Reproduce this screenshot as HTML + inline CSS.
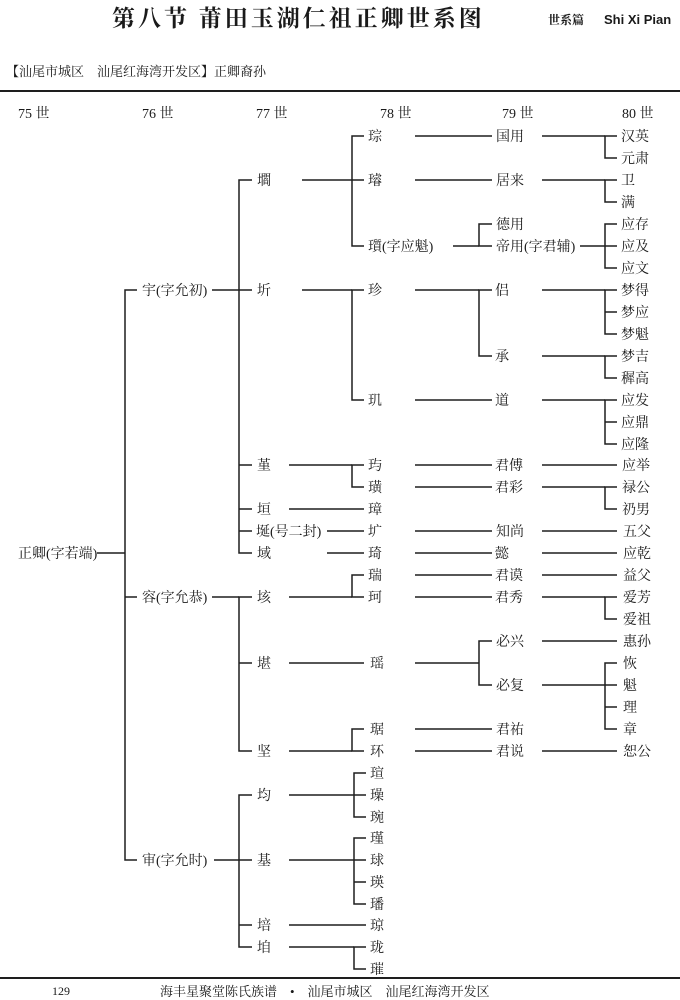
<!DOCTYPE html>
<html><head><meta charset="utf-8"><style>
html,body{margin:0;padding:0;background:#fff;}
svg{display:block}
text{font-family:"Liberation Serif","Noto Serif CJK SC",serif;font-size:14px;fill:#1a1a1a}
.t{font-family:"Liberation Serif","Noto Serif CJK SC",serif;font-size:14px}
line,path{stroke:#1e1e1e;stroke-width:1.5;fill:none}
</style></head><body>
<svg width="680" height="1000" viewBox="0 0 680 1000" xmlns="http://www.w3.org/2000/svg">
<text x="112" y="26" style="font-family:'Noto Serif CJK SC',serif;font-size:23px;font-weight:bold;letter-spacing:3px">第八节  莆田玉湖仁祖正卿世系图</text>
<text x="548" y="24" style="font-family:'Noto Serif CJK SC',serif;font-size:12px;font-weight:bold">世系篇</text>
<text x="604" y="24" style="font-family:'Liberation Sans',sans-serif;font-size:13px;font-weight:bold">Shi Xi Pian</text>
<text class="t" x="6" y="76" style="font-size:13px">【汕尾市城区　汕尾红海湾开发区】正卿裔孙</text>
<line x1="0" y1="91" x2="680" y2="91" style="stroke-width:2"/>
<g class="t">
<text class="t" x="18" y="118">75 世</text><text class="t" x="142" y="118">76 世</text><text class="t" x="256" y="118">77 世</text><text class="t" x="380" y="118">78 世</text><text class="t" x="502" y="118">79 世</text><text class="t" x="622" y="118">80 世</text>
</g>
<text class="t" x="18" y="558">正卿(字若端)</text>
<line x1="97" y1="553" x2="125" y2="553"/>
<path d="M137 290H125V860H137M125 597H137"/>
<text class="t" x="142" y="295">宇(字允初)</text>
<text class="t" x="142" y="602">容(字允恭)</text>
<text class="t" x="142" y="865">审(字允时)</text>
<line x1="212" y1="290" x2="239" y2="290"/>
<line x1="212" y1="597" x2="239" y2="597"/>
<line x1="214" y1="860" x2="239" y2="860"/>
<path d="M252 180H239V553H252M239 290H252M239 465H252M239 509H252M239 531H252"/>
<path d="M252 597H239V751H252M239 663H252"/>
<path d="M252 795H239V947H252M239 860H252M239 925H252"/>
<g>
<text class="t" x="257" y="185">壛</text><text class="t" x="257" y="295">圻</text><text class="t" x="257" y="470">堇</text><text class="t" x="257" y="514">垣</text><text class="t" x="256" y="536">埏(号二封)</text><text class="t" x="257" y="558">域</text>
<text class="t" x="257" y="602">垓</text><text class="t" x="257" y="668">堪</text><text class="t" x="257" y="756">坚</text>
<text class="t" x="257" y="800">均</text><text class="t" x="257" y="865">基</text><text class="t" x="257" y="930">培</text><text class="t" x="257" y="952">垍</text>
</g>
<line x1="302" y1="180" x2="352" y2="180"/><path d="M364 136H352V246H364M352 180H364"/>
<line x1="302" y1="290" x2="352" y2="290"/><path d="M364 290H352V400H364"/>
<line x1="289" y1="465" x2="352" y2="465"/><path d="M364 465H352V487H364"/>
<line x1="289" y1="509" x2="364" y2="509"/>
<line x1="327" y1="531" x2="364" y2="531"/>
<line x1="327" y1="553" x2="364" y2="553"/>
<line x1="289" y1="597" x2="352" y2="597"/><path d="M364 575H352V597H364"/>
<line x1="289" y1="663" x2="364" y2="663"/>
<line x1="289" y1="751" x2="352" y2="751"/><path d="M364 729H352V751H364"/>
<line x1="289" y1="795" x2="354" y2="795"/><path d="M366 773H354V817H366M354 795H366"/>
<line x1="289" y1="860" x2="354" y2="860"/><path d="M366 838H354V904H366M354 860H366M354 882H366"/>
<line x1="289" y1="925" x2="366" y2="925"/>
<line x1="289" y1="947" x2="354" y2="947"/><path d="M366 947H354V969H366"/>
<g>
<text class="t" x="368" y="141">琮</text><text class="t" x="368" y="185">璿</text><text class="t" x="368" y="251">瓆(字应魁)</text><text class="t" x="368" y="295">珍</text><text class="t" x="368" y="405">玑</text>
<text class="t" x="368" y="470">玙</text><text class="t" x="368" y="492">璜</text><text class="t" x="368" y="514">璋</text><text class="t" x="368" y="536">圹</text><text class="t" x="368" y="558">琦</text>
<text class="t" x="368" y="580">瑞</text><text class="t" x="368" y="602">珂</text><text class="t" x="370" y="668">瑶</text><text class="t" x="370" y="734">琚</text><text class="t" x="370" y="756">环</text>
<text class="t" x="370" y="778">瑄</text><text class="t" x="370" y="800">璪</text><text class="t" x="370" y="822">琬</text>
<text class="t" x="370" y="843">瑾</text><text class="t" x="370" y="865">球</text><text class="t" x="370" y="887">瑛</text><text class="t" x="370" y="909">璠</text>
<text class="t" x="370" y="930">琼</text><text class="t" x="370" y="952">珑</text><text class="t" x="370" y="974">璀</text>
</g>
<line x1="415" y1="136" x2="492" y2="136"/><line x1="415" y1="180" x2="492" y2="180"/>
<line x1="453" y1="246" x2="479" y2="246"/><path d="M492 224H479V246H492"/>
<line x1="415" y1="290" x2="479" y2="290"/><path d="M492 290H479V356H492"/>
<line x1="415" y1="400" x2="492" y2="400"/>
<line x1="415" y1="465" x2="492" y2="465"/><line x1="415" y1="487" x2="492" y2="487"/>
<line x1="415" y1="531" x2="492" y2="531"/><line x1="415" y1="553" x2="492" y2="553"/>
<line x1="415" y1="575" x2="492" y2="575"/><line x1="415" y1="597" x2="492" y2="597"/>
<line x1="415" y1="663" x2="479" y2="663"/><path d="M492 641H479V685H492"/>
<line x1="415" y1="729" x2="492" y2="729"/><line x1="415" y1="751" x2="492" y2="751"/>
<g>
<text class="t" x="496" y="141">国用</text><text class="t" x="496" y="185">居来</text><text class="t" x="496" y="229">德用</text><text class="t" x="496" y="251">帝用(字君辅)</text>
<text class="t" x="495" y="295">侣</text><text class="t" x="495" y="361">承</text><text class="t" x="495" y="405">道</text>
<text class="t" x="495" y="470">君傅</text><text class="t" x="495" y="492">君彩</text><text class="t" x="496" y="536">知尚</text><text class="t" x="495" y="558">懿</text>
<text class="t" x="495" y="580">君谟</text><text class="t" x="495" y="602">君秀</text><text class="t" x="496" y="646">必兴</text><text class="t" x="496" y="690">必复</text>
<text class="t" x="496" y="734">君祐</text><text class="t" x="496" y="756">君说</text>
</g>
<line x1="542" y1="136" x2="605" y2="136"/><path d="M617 136H605V158H617"/>
<line x1="542" y1="180" x2="605" y2="180"/><path d="M617 180H605V202H617"/>
<line x1="580" y1="246" x2="605" y2="246"/><path d="M617 224H605V268H617M605 246H617"/>
<line x1="542" y1="290" x2="605" y2="290"/><path d="M617 290H605V334H617M605 312H617"/>
<line x1="542" y1="356" x2="605" y2="356"/><path d="M617 356H605V378H617"/>
<line x1="542" y1="400" x2="605" y2="400"/><path d="M617 400H605V444H617M605 422H617"/>
<line x1="542" y1="465" x2="617" y2="465"/>
<line x1="542" y1="487" x2="605" y2="487"/><path d="M617 487H605V509H617"/>
<line x1="542" y1="531" x2="617" y2="531"/><line x1="542" y1="553" x2="617" y2="553"/><line x1="542" y1="575" x2="617" y2="575"/>
<line x1="542" y1="597" x2="605" y2="597"/><path d="M617 597H605V619H617"/>
<line x1="542" y1="641" x2="617" y2="641"/>
<line x1="542" y1="685" x2="605" y2="685"/><path d="M617 663H605V729H617M605 685H617M605 707H617"/>
<line x1="542" y1="751" x2="617" y2="751"/>
<g>
<text class="t" x="621" y="141">汉英</text><text class="t" x="621" y="163">元肃</text><text class="t" x="621" y="185">卫</text><text class="t" x="621" y="207">满</text>
<text class="t" x="621" y="229">应存</text><text class="t" x="621" y="251">应及</text><text class="t" x="621" y="273">应文</text>
<text class="t" x="621" y="295">梦得</text><text class="t" x="621" y="317">梦应</text><text class="t" x="621" y="339">梦魁</text><text class="t" x="621" y="361">梦吉</text><text class="t" x="621" y="383">穉高</text>
<text class="t" x="621" y="405">应发</text><text class="t" x="621" y="427">应鼎</text><text class="t" x="621" y="449">应隆</text>
<text class="t" x="622" y="470">应举</text><text class="t" x="622" y="492">禄公</text><text class="t" x="622" y="514">礽男</text><text class="t" x="623" y="536">五父</text><text class="t" x="623" y="558">应乾</text>
<text class="t" x="623" y="580">益父</text><text class="t" x="623" y="602">爱芳</text><text class="t" x="623" y="624">爱祖</text><text class="t" x="623" y="646">惠孙</text>
<text class="t" x="623" y="668">恢</text><text class="t" x="623" y="690">魁</text><text class="t" x="623" y="712">理</text><text class="t" x="623" y="734">章</text><text class="t" x="623" y="756">恕公</text>
</g>
<line x1="0" y1="978" x2="680" y2="978" style="stroke-width:2"/>
<text x="52" y="995" style="font-size:12px">129</text>
<text class="t" x="160" y="996" style="font-size:13px">海丰星聚堂陈氏族谱　•　汕尾市城区　汕尾红海湾开发区</text>
</svg>
</body></html>
